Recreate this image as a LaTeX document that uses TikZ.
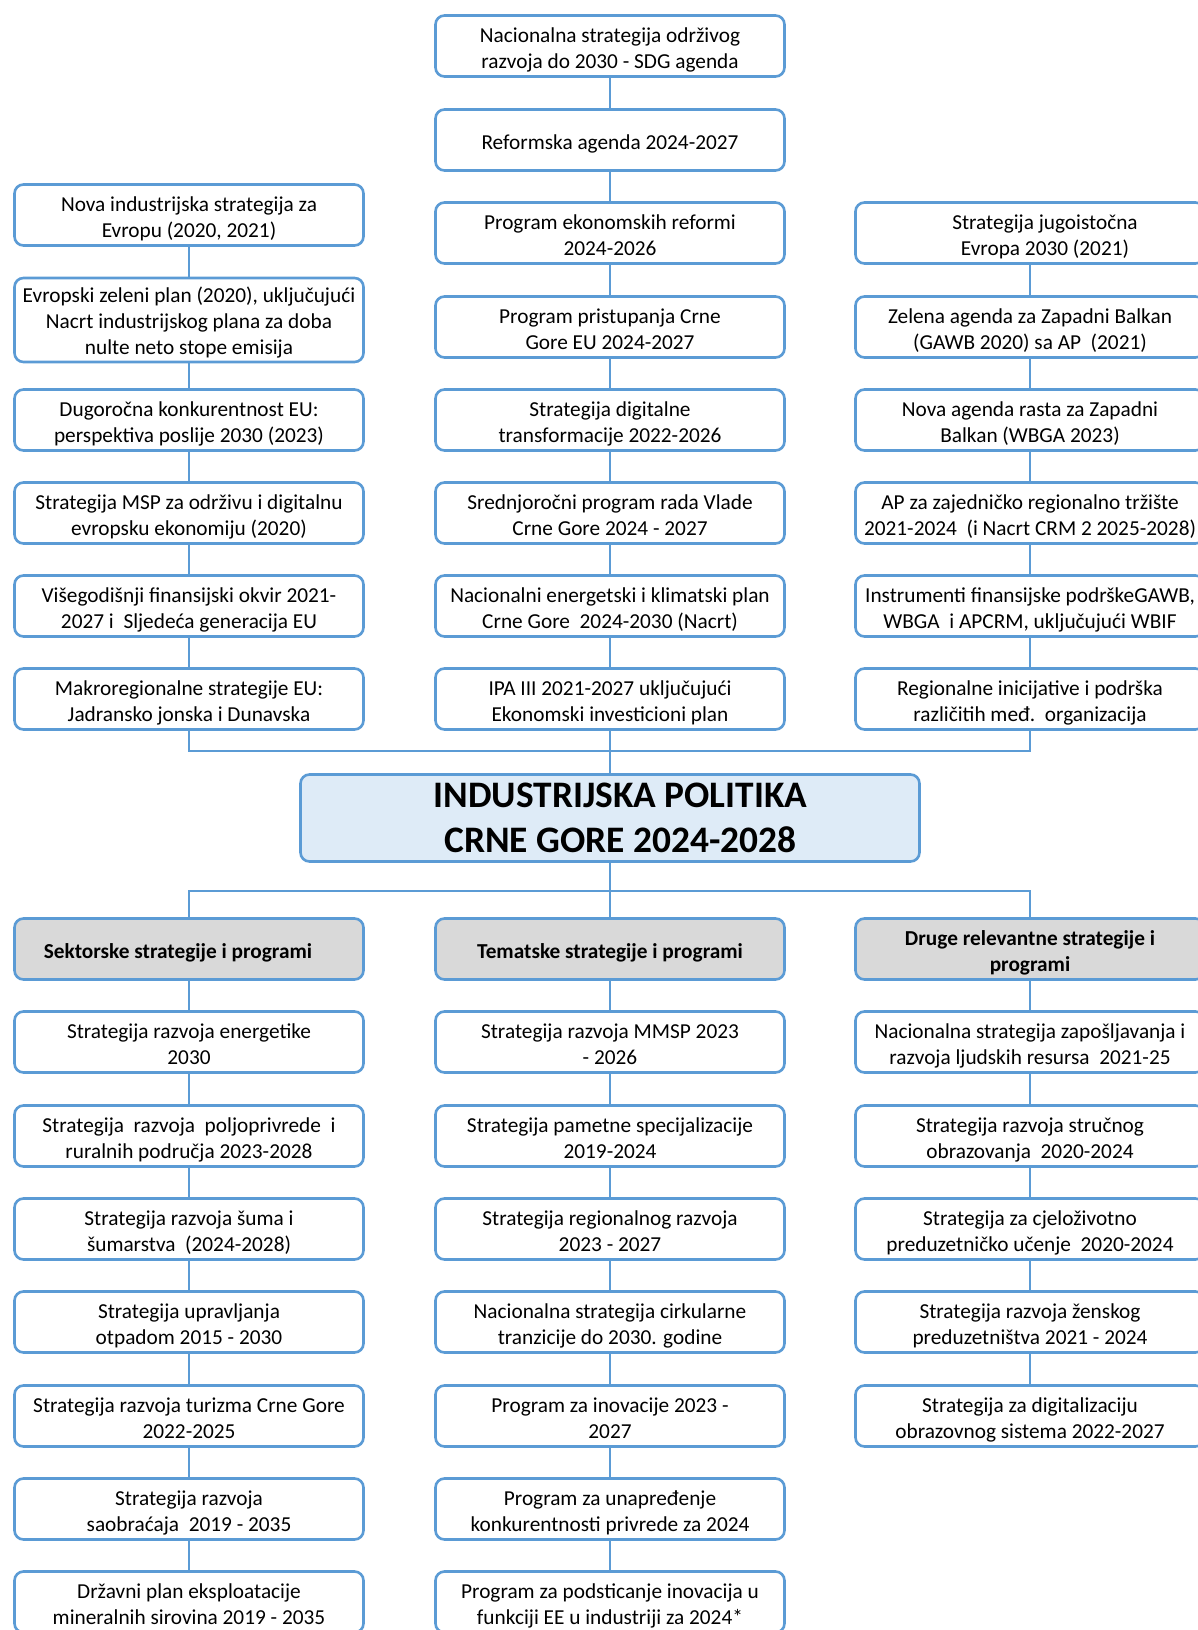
\documentclass[tikz,border=0pt]{standalone}
\usepackage{fontspec}
\setmainfont{Carlito}
\definecolor{okvir}{RGB}{91,155,213}
\definecolor{plava}{RGB}{222,235,247}
\definecolor{siva}{RGB}{217,217,217}
\newcommand{\natpis}[2][27pt]{\begin{tabular}[t]{@{}c@{}}\rule{0pt}{#1}#2\end{tabular}}
\tikzset{
  osnova/.style={draw=okvir, line width=2.6pt, rounded corners=9pt,
    minimum width=349pt, minimum height=61pt, inner sep=0pt},
  kutija/.style={osnova, fill=white, font=\fontsize{21.3}{26}\selectfont},
  zaglavlje/.style={osnova, fill=siva, font=\bfseries\fontsize{21.3}{26}\selectfont},
  glavna/.style={osnova, fill=plava, minimum width=619pt, minimum height=87pt,
    align=center, font=\bfseries\fontsize{37.4}{45}\selectfont},
  veza/.style={draw=okvir, line width=1.3pt},
}
\begin{document}
\begin{tikzpicture}[x=1pt,y=-1pt]
        \useasboundingbox (0,0) rectangle (1198,1630);
        \clip (0,0) rectangle (1198,1630);

        % Srednja kolona gore
        \node[kutija] (c1) at (610,46) {\natpis{Nacionalna strategija održivog\\razvoja do 2030 - SDG agenda}};
        \node[kutija] (c2) at (610,140) {\natpis{Reformska agenda 2024-2027}};
        \node[kutija] (c3) at (610,233) {\natpis{Program ekonomskih reformi\\2024-2026}};
        \node[kutija] (c4) at (610,327) {\natpis{Program pristupanja Crne\\Gore EU 2024-2027}};
        \node[kutija] (c5) at (610,420) {\natpis{Strategija digitalne\\transformacije 2022-2026}};
        \node[kutija] (c6) at (610,513) {\natpis{Srednjoročni program rada Vlade\\Crne Gore 2024 - 2027}};
        \node[kutija] (c7) at (610,606) {\natpis{Nacionalni energetski i klimatski plan\\Crne Gore\ \ 2024-2030 (Nacrt)}};
        \node[kutija] (c8) at (610,699) {\natpis{IPA III 2021-2027 uključujući\\Ekonomski investicioni plan}};

        % Lijeva kolona gore
        \node[kutija] (l1) at (189,215) {\natpis{Nova industrijska strategija za\\Evropu (2020, 2021)}};
        \node[kutija, minimum height=84pt] (l2) at (189,320) {\natpis[24pt]{Evropski zeleni plan (2020), uključujući\\Nacrt industrijskog plana za doba\\nulte neto stope emisija}};
        \node[kutija] (l3) at (189,420) {\natpis{Dugoročna konkurentnost EU:\\perspektiva poslije 2030 (2023)}};
        \node[kutija] (l4) at (189,513) {\natpis{Strategija MSP za održivu i digitalnu\\evropsku ekonomiju (2020)}};
        \node[kutija] (l5) at (189,606) {\natpis{Višegodišnji finansijski okvir 2021-\\2027 i\ \ Sljedeća generacija EU}};
        \node[kutija] (l6) at (189,699) {\natpis{Makroregionalne strategije EU:\\Jadransko jonska i Dunavska}};

        % Desna kolona gore
        \node[kutija] (r1) at (1030,233) {\natpis{\hspace*{30pt}Strategija jugoistočna\\\hspace*{30pt}Evropa 2030 (2021)}};
        \node[kutija] (r2) at (1030,327) {\natpis{Zelena agenda za Zapadni Balkan\\(GAWB 2020) sa AP\ \ (2021)}};
        \node[kutija] (r3) at (1030,420) {\natpis{Nova agenda rasta za Zapadni\\Balkan (WBGA 2023)}};
        \node[kutija] (r4) at (1030,513) {\natpis{AP za zajedničko regionalno tržište\\2021-2024\ \ (i Nacrt CRM 2 2025-2028)}};
        \node[kutija] (r5) at (1030,606) {\natpis{Instrumenti finansijske podrškeGAWB,\\WBGA\ \ i APCRM, uključujući WBIF}};
        \node[kutija] (r6) at (1030,699) {\natpis{Regionalne inicijative i podrška\\različitih međ.\ \ organizacija}};

        % Glavna kutija
        \node[glavna] (ip) at (610,818) {\hspace*{21pt}INDUSTRIJSKA POLITIKA\\\hspace*{21pt}CRNE GORE 2024-2028};

        % Zaglavlja
        \node[zaglavlje] (h1) at (189,949) {\natpis[26pt]{Sektorske strategije i programi\hspace*{22pt}}};
        \node[zaglavlje] (h2) at (610,949) {\natpis[26pt]{Tematske strategije i programi}};
        \node[zaglavlje] (h3) at (1030,949) {\natpis{Druge relevantne strategije i\\programi}};

        % Sektorske
        \node[kutija] (s1) at (189,1042) {\natpis{Strategija razvoja energetike\\2030}};
        \node[kutija] (s2) at (189,1136) {\natpis{Strategija\ \ razvoja\ \ poljoprivrede\ \ i\\ruralnih područja 2023-2028}};
        \node[kutija] (s3) at (189,1229) {\natpis{Strategija razvoja šuma i\\šumarstva\ \ (2024-2028)}};
        \node[kutija] (s4) at (189,1322) {\natpis{Strategija upravljanja\\otpadom 2015 - 2030}};
        \node[kutija] (s5) at (189,1416) {\natpis{Strategija razvoja turizma Crne Gore\\2022-2025}};
        \node[kutija] (s6) at (189,1509) {\natpis{Strategija razvoja\\saobraćaja\ \ 2019 - 2035}};
        \node[kutija] (s7) at (189,1602) {\natpis{Državni plan eksploatacije\\mineralnih sirovina 2019 - 2035}};

        % Tematske
        \node[kutija] (t1) at (610,1042) {\natpis{Strategija razvoja MMSP 2023\\- 2026}};
        \node[kutija] (t2) at (610,1136) {\natpis{Strategija pametne specijalizacije\\2019-2024}};
        \node[kutija] (t3) at (610,1229) {\natpis{Strategija regionalnog razvoja\\2023 - 2027}};
        \node[kutija] (t4) at (610,1322) {\natpis{Nacionalna strategija cirkularne\\tranzicije do 2030. godine}};
        \node[kutija] (t5) at (610,1416) {\natpis{Program za inovacije 2023 -\\2027}};
        \node[kutija] (t6) at (610,1509) {\natpis{Program za unapređenje\\konkurentnosti privrede za 2024}};
        \node[kutija] (t7) at (610,1602) {\natpis{Program za podsticanje inovacija u\\funkciji EE u industriji za 2024*}};

        % Druge
        \node[kutija] (d1) at (1030,1042) {\natpis{Nacionalna strategija zapošljavanja i\\razvoja ljudskih resursa\ \ 2021-25}};
        \node[kutija] (d2) at (1030,1136) {\natpis{Strategija razvoja stručnog\\obrazovanja\ \ 2020-2024}};
        \node[kutija] (d3) at (1030,1229) {\natpis{Strategija za cjeloživotno\\preduzetničko učenje\ \ 2020-2024}};
        \node[kutija] (d4) at (1030,1322) {\natpis{Strategija razvoja ženskog\\preduzetništva 2021 - 2024}};
        \node[kutija] (d5) at (1030,1416) {\natpis{Strategija za digitalizaciju\\obrazovnog sistema 2022-2027}};

        % Veze gore
        \draw[veza] (c1) -- (c2) -- (c3) -- (c4) -- (c5) -- (c6) -- (c7) -- (c8) -- (ip);
        \draw[veza] (l1) -- (l2) -- (l3) -- (l4) -- (l5) -- (l6);
        \draw[veza] (r1) -- (r2) -- (r3) -- (r4) -- (r5) -- (r6);
        \coordinate (gore) at (610,751);
        \draw[veza] (l6.south) |- (gore) -| (r6.south);

        % Veze dole
        \coordinate (dole) at (610,891);
        \draw[veza] (ip) -- (h2);
        \draw[veza] (h1.north) |- (dole) -| (h3.north);
        \draw[veza] (h1) -- (s1) -- (s2) -- (s3) -- (s4) -- (s5) -- (s6) -- (s7);
        \draw[veza] (h2) -- (t1) -- (t2) -- (t3) -- (t4) -- (t5) -- (t6) -- (t7);
        \draw[veza] (h3) -- (d1) -- (d2) -- (d3) -- (d4) -- (d5);
\end{tikzpicture}
\end{document}
